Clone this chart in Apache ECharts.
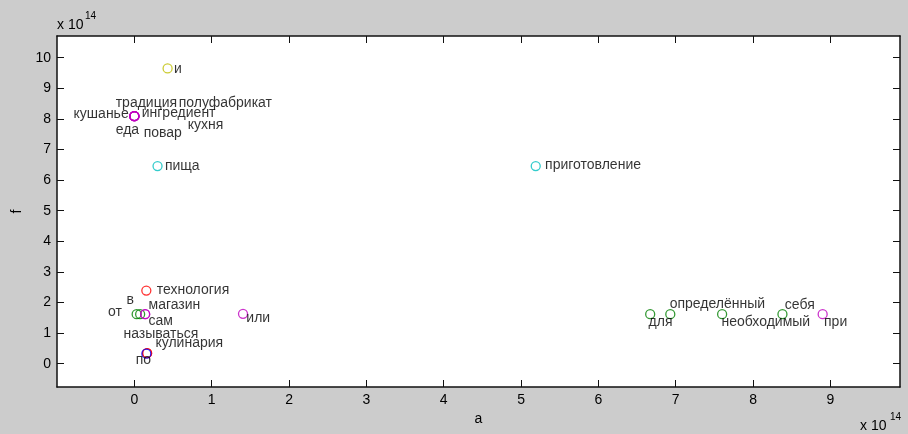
<!DOCTYPE html>
<html>
<head>
<meta charset="utf-8">
<script src="https://cdn.jsdelivr.net/npm/echarts@6/dist/echarts.min.js"></script>
<style>
  html, body { margin: 0; padding: 0; background: #cccccc; }
  #chart { width: 908px; height: 434px; }
</style>
</head>
<body>
<div id="chart"></div>
<script>
// Words and their coordinates (units of 1e14)
const words = [
  'и',
  'кушанье', 'традиция', 'полуфабрикат', 'ингредиент', 'еда', 'повар', 'кухня',
  'пища', 'приготовление',
  'технология',
  'от', 'в', 'магазин', 'сам',
  'или',
  'называться', 'кулинария', 'по',
  'для', 'определённый', 'необходимый', 'себя', 'при'
];
const xValues = [
  0.43,
  0.00, 0.00, 0.00, 0.00, 0.00, 0.00, 0.00,
  0.30, 5.19,
  0.155,
  0.03, 0.075, 0.14, 0.14,
  1.405,
  0.165, 0.165, 0.155,
  6.67, 6.93, 7.60, 8.38, 8.90
];
const yValues = [
  9.65,
  8.09, 8.09, 8.09, 8.09, 8.09, 8.09, 8.09,
  6.46, 6.46,
  2.39,
  1.62, 1.62, 1.62, 1.62,
  1.63,
  0.345, 0.345, 0.33,
  1.62, 1.62, 1.62, 1.62, 1.62
];
// colour group of each word (index into the palette)
const groups = [
  5,
  4, 4, 4, 4, 4, 4, 4,
  3, 3,
  2,
  1, 1, 4, 4,
  4,
  2, 2, 0,
  1, 1, 1, 1, 4
];

// Tick labels
const xTicks = [0, 1, 2, 3, 4, 5, 6, 7, 8, 9];
const yTicks = [0, 1, 2, 3, 4, 5, 6, 7, 8, 9, 10];

// Styling
const palette = ['#0000ff', '#008000', '#ff0000', '#00bfbf', '#bf00bf', '#bfbf00'];
const SYMBOL = 9;
// label placement relative to each marker centre: [dx, dy, align]
const labelPlacement = [
  [7, 1, 'left'],
  [-5, -1, 'right'], [-18, -12, 'left'], [45, -12, 'left'], [8, -2, 'left'],
  [-18, 15, 'left'], [10, 18, 'left'], [54, 10, 'left'],
  [8, 1, 'left'], [10, 0, 'left'],
  [11, 0, 'left'],
  [-14, -1, 'right'], [-13, -13, 'left'], [4, -8, 'left'], [4, 8, 'left'],
  [4, 5, 'left'],
  [-23, -18, 'left'], [9, -9, 'left'], [-10, 7, 'left'],
  [-1, 9, 'left'], [0, -9, 'left'], [0, 9, 'left'], [3, -8, 'left'], [2, 9, 'left']
];

const FONT = 'Liberation Sans, Arial, sans-serif';
const AXIS_COLOR = '#111111';
const TEXT_COLOR = '#000000';

const points = words.map((w, i) => ({
  name: w,
  value: [xValues[i], yValues[i]],
  itemStyle: { color: 'rgba(0,0,0,0)', borderColor: palette[groups[i]], borderWidth: 1.3 },
  label: {
    show: true,
    formatter: w,
    // position is measured from the top-left of the symbol box
    position: [SYMBOL / 2 + labelPlacement[i][0], SYMBOL / 2 + labelPlacement[i][1]],
    align: labelPlacement[i][2],
    verticalAlign: 'middle',
    fontFamily: FONT,
    fontSize: 14,
    color: TEXT_COLOR
  }
}));

const tickStyle = (vals) => ({
  show: true, inside: true, length: 7, customValues: vals,
  lineStyle: { color: AXIS_COLOR, width: 1 }
});

const chart = echarts.init(document.getElementById('chart'), null, { renderer: 'canvas' });
chart.setOption({
  backgroundColor: '#cccccc',
  animation: false,
  grid: {
    left: 57, right: 8, top: 36, bottom: 47,
    outerBoundsMode: 'none',
    containLabel: false,
    show: true, backgroundColor: '#ffffff', borderWidth: 0
  },
  xAxis: [
    {
      type: 'value', position: 'bottom', min: -1, max: 9.9,
      name: 'a', nameLocation: 'middle', nameGap: 25,
      nameTextStyle: { fontFamily: FONT, fontSize: 14, color: TEXT_COLOR },
      axisLine: { show: true, onZero: false, lineStyle: { color: AXIS_COLOR, width: 1.5 } },
      axisTick: tickStyle(xTicks),
      axisLabel: { customValues: xTicks, margin: 6, fontFamily: FONT, fontSize: 14, color: TEXT_COLOR },
      splitLine: { show: false }
    },
    {
      type: 'value', position: 'top', min: -1, max: 9.9,
      axisLine: { show: true, onZero: false, lineStyle: { color: AXIS_COLOR, width: 1.5 } },
      axisTick: tickStyle(xTicks),
      axisLabel: { show: false },
      splitLine: { show: false }
    }
  ],
  yAxis: [
    {
      type: 'value', position: 'left', min: -0.76, max: 10.71,
      name: 'f', nameLocation: 'middle', nameGap: 31,
      nameTextStyle: { fontFamily: FONT, fontSize: 14, color: TEXT_COLOR },
      axisLine: { show: true, onZero: false, lineStyle: { color: AXIS_COLOR, width: 1.5 } },
      axisTick: tickStyle(yTicks),
      axisLabel: { customValues: yTicks, margin: 6, fontFamily: FONT, fontSize: 14, color: TEXT_COLOR },
      splitLine: { show: false }
    },
    {
      type: 'value', position: 'right', min: -0.76, max: 10.71,
      axisLine: { show: true, onZero: false, lineStyle: { color: AXIS_COLOR, width: 1.5 } },
      axisTick: tickStyle(yTicks),
      axisLabel: { show: false },
      splitLine: { show: false }
    }
  ],
  graphic: [
    { type: 'text', left: 57, top: 18, style: { text: 'x 10', font: '14px ' + FONT, fill: TEXT_COLOR } },
    { type: 'text', left: 85, top: 11, style: { text: '14', font: '10px ' + FONT, fill: TEXT_COLOR } },
    { type: 'text', left: 860, top: 419, style: { text: 'x 10', font: '14px ' + FONT, fill: TEXT_COLOR } },
    { type: 'text', left: 890, top: 412, style: { text: '14', font: '10px ' + FONT, fill: TEXT_COLOR } }
  ],
  series: [{
    type: 'scatter',
    xAxisIndex: 0,
    yAxisIndex: 0,
    symbol: 'circle',
    symbolSize: SYMBOL,
    data: points,
    emphasis: { disabled: true },
    labelLayout: { hideOverlap: false }
  }]
});
</script>
</body>
</html>
